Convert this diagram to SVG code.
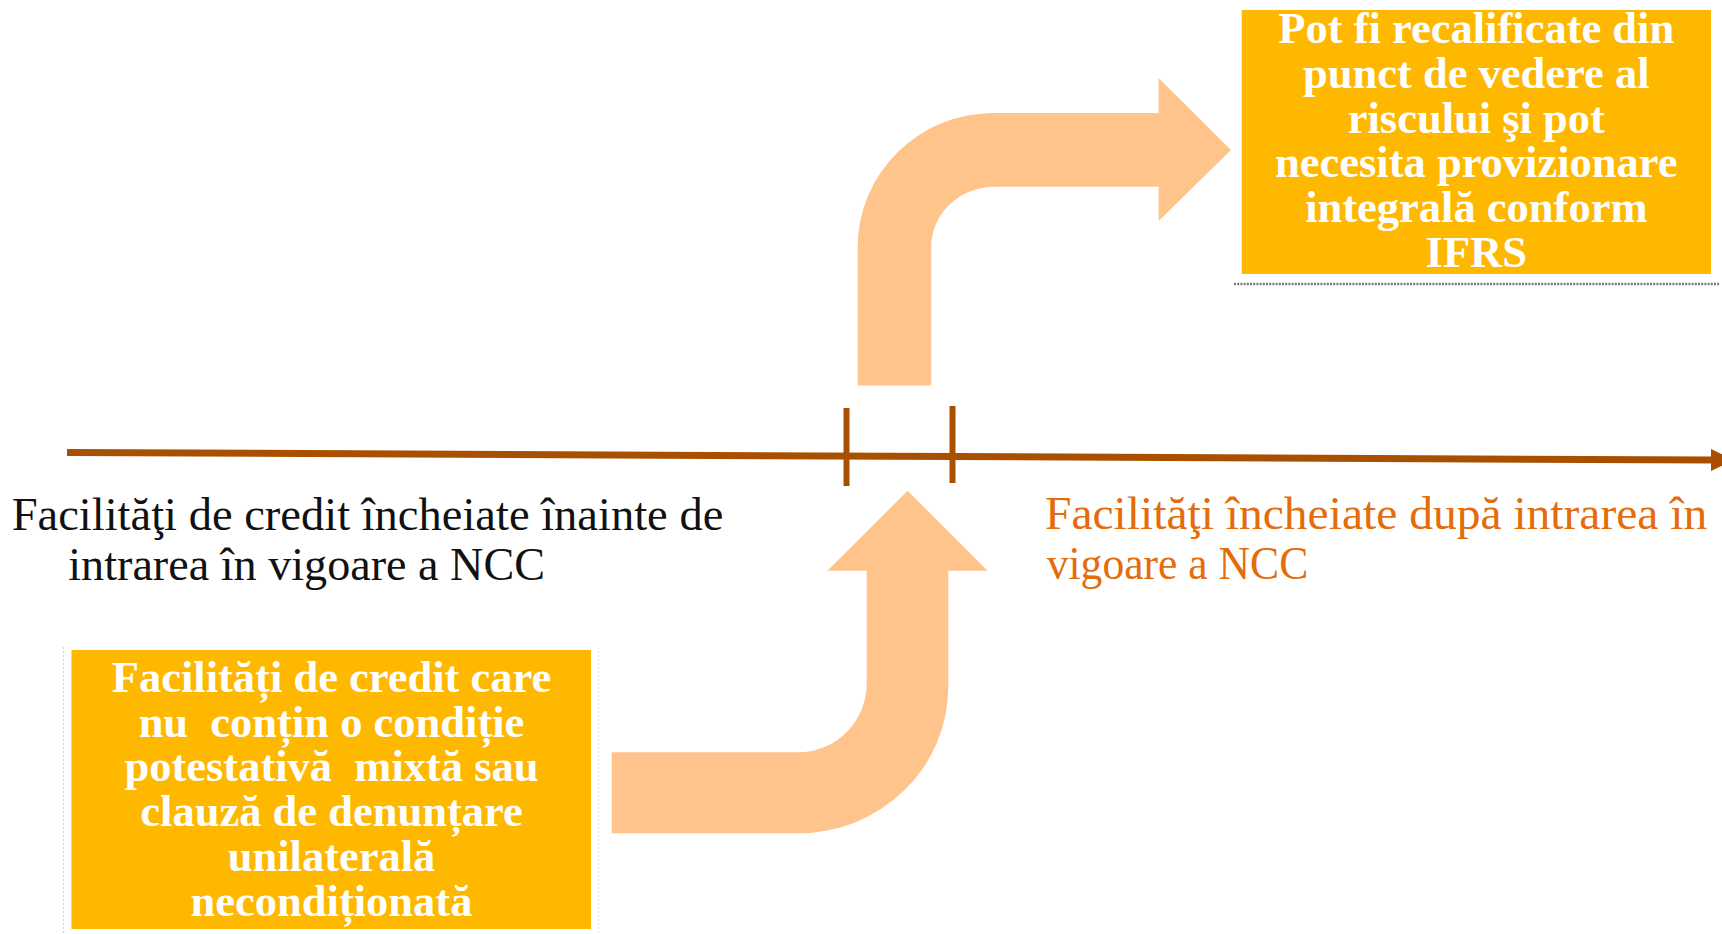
<svg xmlns="http://www.w3.org/2000/svg" width="1722" height="934" viewBox="0 0 1722 934">
  <style>
    .box { fill: #FFB800; }
    .bend { fill: #FFC48C; }
    .axis { stroke: #A85000; stroke-width: 7; fill: none; }
    .tick { stroke: #A85000; stroke-width: 6; }
    .boxtxt { font-family: "Liberation Serif", "Times New Roman", serif; font-weight: bold; font-size: 44.5px; fill: #FFFFFF; text-anchor: middle; white-space: pre; }
    .lbl { font-family: "Liberation Serif", "Times New Roman", serif; font-size: 47px; }
    .dark { fill: #111111; }
    .orange { fill: #E46C0A; }
  </style>
  <rect width="1722" height="934" fill="#FFFFFF"/>

  <g id="connectors">
    <path id="timeline" class="axis" d="M67,452.5 L1713,460"/>
    <polygon points="1711,449 1711,471 1734,460" fill="#A85000"/>
    <line class="tick" x1="846.5" y1="408" x2="846.5" y2="486"/>
    <line class="tick" x1="952.5" y1="406" x2="952.5" y2="483"/>
    <path id="arrow-up-right" class="bend" d="M857.7,385.5 L857.7,247 A136,134 0 0 1 994,113 L1158.6,113 L1158.6,78 L1231,150 L1158.6,221 L1158.6,186.7 L994,186.7 A63,60 0 0 0 931.3,247 L931.3,385.5 Z"/>
    <path id="arrow-right-up" class="bend" d="M611.7,752.3 L798.3,752.3 A68.4,69 0 0 0 866.7,683.3 L866.7,570.7 L827.3,570.7 L907.7,490.7 L987.7,570.7 L948.3,570.7 L948.3,686.7 A150,146.6 0 0 1 798.3,833.3 L611.7,833.3 Z"/>
  </g>

  <g id="label-before">
    <text class="lbl dark" x="11.7" y="530" textLength="711.6" lengthAdjust="spacingAndGlyphs">Facilităţi de credit încheiate înainte de</text>
    <text class="lbl dark" x="68.3" y="579.5" textLength="476.7" lengthAdjust="spacingAndGlyphs">intrarea în vigoare a NCC</text>
  </g>

  <g id="label-after">
    <text class="lbl orange" x="1045" y="528.5" textLength="662.3" lengthAdjust="spacingAndGlyphs">Facilităţi încheiate după intrarea în</text>
    <text class="lbl orange" x="1046.7" y="578.5" textLength="261.6" lengthAdjust="spacingAndGlyphs">vigoare a NCC</text>
  </g>

  <g id="box-bottom-left">
    <line x1="63.5" y1="647" x2="63.5" y2="934" stroke="#D4D4D4" stroke-width="1" stroke-dasharray="2 2"/>
    <line x1="598.5" y1="647" x2="598.5" y2="934" stroke="#E2E2E2" stroke-width="1" stroke-dasharray="2 2"/>
    <rect class="box" x="71.5" y="650" width="519.5" height="279"/>
    <text class="boxtxt" x="331.5" y="691.7">Facilități de credit care</text>
    <text class="boxtxt" x="331.5" y="736.5">nu  conțin o condiție</text>
    <text class="boxtxt" x="331.5" y="781.3">potestativă  mixtă sau</text>
    <text class="boxtxt" x="331.5" y="826">clauză de denunțare</text>
    <text class="boxtxt" x="331.5" y="870.8">unilaterală</text>
    <text class="boxtxt" x="331.5" y="915.6">necondiționată</text>
  </g>

  <g id="box-top-right">
    <rect class="box" x="1241.7" y="10" width="469.3" height="264"/>
    <line x1="1234" y1="284" x2="1719" y2="284" stroke="#7A7A7A" stroke-width="2.5" stroke-dasharray="2 1.2"/>
    <text class="boxtxt" x="1476.3" y="43.3">Pot fi recalificate din</text>
    <text class="boxtxt" x="1476.3" y="88">punct de vedere al</text>
    <text class="boxtxt" x="1476.3" y="132.7">riscului şi pot</text>
    <text class="boxtxt" x="1476.3" y="177.4">necesita provizionare</text>
    <text class="boxtxt" x="1476.3" y="222.1">integrală conform</text>
    <text class="boxtxt" x="1476.3" y="266.8">IFRS</text>
  </g>
</svg>
